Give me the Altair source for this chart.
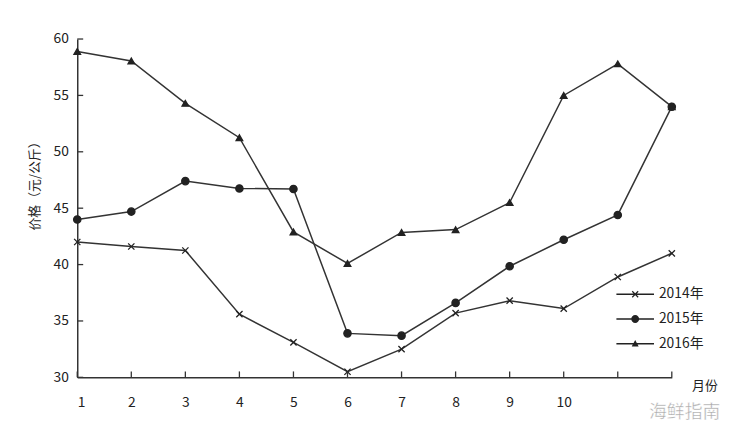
import altair as alt
import pandas as pd

months = list(range(1, 13))
years = ["2014年", "2015年", "2016年"]
p2014 = [42.0, 41.6, 41.25, 35.6, 33.1, 30.5, 32.5, 35.7, 36.8, 36.1, 38.9, 41.0]
p2015 = [44.0, 44.7, 47.4, 46.75, 46.7, 33.9, 33.7, 36.6, 39.85, 42.2, 44.4, 54.0]
p2016 = [58.9, 58.05, 54.3, 51.25, 42.9, 40.1, 42.85, 43.1, 45.5, 55.0, 57.8, 54.0]
y_ticks = [30, 35, 40, 45, 50, 55, 60]
x_label_max = 10
y_title = "价格（元/公斤）"
x_title = "月份"
watermark = "海鲜指南"

rows = []
for yr, vals in zip(years, [p2014, p2015, p2016]):
    for m, v in zip(months, vals):
        rows.append({"month": m, "price": v, "year": yr})
df = pd.DataFrame(rows)

W, H = 601, 342
FONT = "Noto Sans CJK SC"
INK = "#222222"
LINE = "#333333"

x_scale = alt.Scale(domain=[1, 12], nice=False, zero=False)
y_scale = alt.Scale(domain=[30, 60], nice=False, zero=False)

x_axis = alt.Axis(
    values=months,
    labelExpr=f"datum.value <= {x_label_max} ? datum.label : ''",
    ticks=False, grid=False, domainColor=LINE, domainWidth=1.5,
    labelFont=FONT, labelFontSize=14, labelColor=INK, labelPadding=18,
    title=x_title, titleFont=FONT, titleFontSize=13, titleFontWeight="normal",
    titleColor=INK, titleX=634, titleY=8, titleBaseline="middle", titleAlign="center",
)
y_axis = alt.Axis(
    values=y_ticks, ticks=False, grid=False, domainColor=LINE, domainWidth=1.5,
    labelFont=FONT, labelFontSize=14, labelColor=INK, labelPadding=9,
    title=y_title, titleFont=FONT, titleFontSize=13, titleFontWeight="normal",
    titleColor=INK, titleX=-43, titleY=145, titleAngle=270,
    titleBaseline="middle", titleAlign="center",
)
X = alt.X("month:Q", scale=x_scale, axis=x_axis)
Y = alt.Y("price:Q", scale=y_scale, axis=y_axis)

base = alt.Chart(df)

lines = base.mark_line(color=LINE, strokeWidth=1.5).encode(x=X, y=Y, detail="year:N")

XPATH = "M-1,-1L1,1M-1,1L1,-1"
marker_shapes = [XPATH, "circle", "triangle-up"]
marker_sizes = [40, 55, 45]
point_layers = []
for yr, shp, sz in zip(years, marker_shapes, marker_sizes):
    point_layers.append(
        base.transform_filter(alt.datum.year == yr)
        .mark_point(shape=shp, size=sz, fill=INK, stroke=INK, strokeWidth=1.3, opacity=1)
        .encode(x=X, y=Y)
    )

# legend symbols drawn as filled shapes only (line segment + marker)
BAR = "M-3.8,-0.15L3.8,-0.15L3.8,0.15L-3.8,0.15Z"
L14 = (BAR + "M-0.515,-0.685L0.685,0.515L0.515,0.685L-0.685,-0.515Z"
       "M-0.685,0.515L0.515,-0.685L0.685,-0.515L-0.515,0.685Z")
L15 = BAR + "M-0.8,0A0.8,0.8 0 1,1 0.8,0A0.8,0.8 0 1,1 -0.8,0Z"
L16 = BAR + "M0,-0.75L0.7,0.55L-0.7,0.55Z"
legend_layer = base.mark_point(filled=True, color=INK, opacity=1).encode(
    x=X, y=Y,
    shape=alt.Shape(
        "year:N",
        scale=alt.Scale(domain=years, range=[L14, L15, L16]),
        legend=alt.Legend(
            orient="none", legendX=557, legendY=251, title=None, padding=0,
            symbolSize=100, symbolFillColor=INK, symbolStrokeWidth=0,
            symbolOpacity=1,
            labelFont=FONT, labelFontSize=14, labelColor=INK, labelOffset=17,
            rowPadding=11,
        ),
    ),
).transform_filter("false")

ytick_rules = alt.Chart(pd.DataFrame({"price": y_ticks})).mark_rule(color=LINE, strokeWidth=1.3).encode(
    y=Y, x=alt.value(0), x2=alt.value(6),
)
xtick_rules = alt.Chart(pd.DataFrame({"month": months})).mark_rule(color=LINE, strokeWidth=1.3).encode(
    x=X, y=alt.value(H), y2=alt.value(H - 6),
)

wm = alt.Chart(pd.DataFrame({"t": [watermark]})).mark_text(
    font=FONT, fontSize=18, color="#a8a8a8",
    stroke="white", strokeWidth=0.4, align="center", baseline="middle",
).encode(text="t:N", x=alt.value(614), y=alt.value(378))

chart = alt.layer(lines, *point_layers, legend_layer, ytick_rules, xtick_rules, wm).properties(
    width=W, height=H,
    background="white",
    autosize=alt.AutoSizeParams(type="none"),
    padding={"left": 70, "top": 29, "right": 75, "bottom": 64},
).configure_view(stroke=None)

chart.save("out.html", embed_options={"renderer": "svg", "actions": False})
